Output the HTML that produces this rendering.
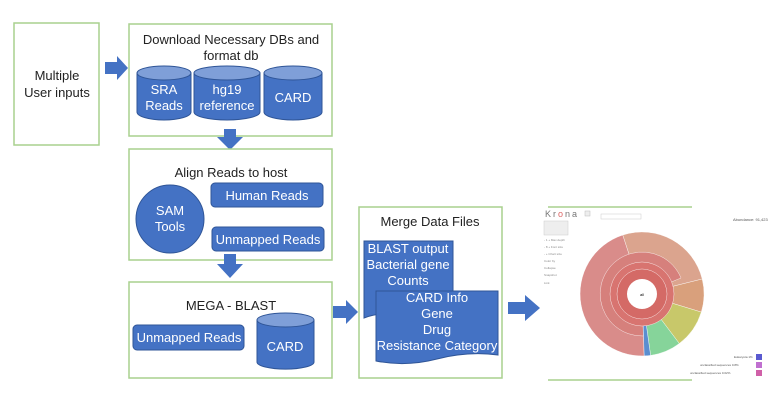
<!DOCTYPE html>
<html><head><meta charset="utf-8"><style>
html,body{margin:0;padding:0;background:#fff;}
svg{display:block;font-family:"Liberation Sans","DejaVu Sans",sans-serif;}
.box{fill:#fff;stroke:#a9d18e;stroke-width:1.5;}
.blue{fill:#4472c4;stroke:#2f5597;stroke-width:1;}
.top{fill:#7f9fd8;stroke:#2f5597;stroke-width:1;}
.wt{fill:#fff;font-size:13px;text-anchor:middle;}
.bt{fill:#222;font-size:13px;text-anchor:middle;}
</style></head><body>
<svg width="774" height="420" viewBox="0 0 774 420">
<rect class="box" x="14" y="23" width="85" height="122"/>
<text class="bt" x="57" y="80">Multiple</text>
<text class="bt" x="57" y="97">User inputs</text>
<polygon fill="#4472c4" points="105,62 117,62 117,56 128,68 117,80 117,74 105,74"/>
<rect class="box" x="129" y="24" width="203" height="112"/>
<text class="bt" x="231" y="44" font-size="12.5">Download Necessary DBs and</text>
<text class="bt" x="231" y="60" font-size="12.5">format db</text>
<g>
<path class="blue" d="M137,73 v39 a27,8 0 0 0 54,0 v-39"/>
<ellipse class="top" cx="164" cy="73" rx="27" ry="7"/>
<text class="wt" x="164" y="94">SRA</text><text class="wt" x="164" y="110">Reads</text>
<path class="blue" d="M194,73 v39 a33,8 0 0 0 66,0 v-39"/>
<ellipse class="top" cx="227" cy="73" rx="33" ry="7"/>
<text class="wt" x="227" y="94">hg19</text><text class="wt" x="227" y="110">reference</text>
<path class="blue" d="M264,73 v39 a29,8 0 0 0 58,0 v-39"/>
<ellipse class="top" cx="293" cy="73" rx="29" ry="7"/>
<text class="wt" x="293" y="102">CARD</text>
</g>
<polygon fill="#4472c4" points="224,129 236,129 236,137 243,137 230,150 217,137 224,137"/>
<rect class="box" x="129" y="149" width="203" height="111"/>
<text class="bt" x="231" y="177">Align Reads to host</text>
<circle class="blue" cx="170" cy="219" r="34"/>
<text class="wt" x="170" y="215">SAM</text><text class="wt" x="170" y="231">Tools</text>
<rect class="blue" x="211" y="183" width="112" height="24" rx="4"/>
<text class="wt" x="267" y="200">Human Reads</text>
<rect class="blue" x="212" y="227" width="112" height="24" rx="4"/>
<text class="wt" x="268" y="244">Unmapped Reads</text>
<polygon fill="#4472c4" points="224,254 236,254 236,264 243,264 230,278 217,264 224,264"/>
<rect class="box" x="129" y="282" width="203" height="96"/>
<text class="bt" x="231" y="310">MEGA - BLAST</text>
<rect class="blue" x="133" y="325" width="111" height="25" rx="4"/>
<text class="wt" x="189" y="342">Unmapped Reads</text>
<path class="blue" d="M257,320 v42 a28,7 0 0 0 57,0 v-42"/>
<ellipse class="top" cx="285.5" cy="320" rx="28.5" ry="7"/>
<text class="wt" x="285" y="351">CARD</text>
<polygon fill="#4472c4" points="333,306 346,306 346,300 358,312 346,324 346,318 333,318"/>
<rect class="box" x="359" y="207" width="143" height="171"/>
<text class="bt" x="430" y="226">Merge Data Files</text>
<path class="blue" d="M364,241 h89 v75 h-53 q-18,-5 -36,2 z"/>
<text class="wt" x="408" y="253">BLAST output</text>
<text class="wt" x="408" y="269">Bacterial gene</text>
<text class="wt" x="408" y="285">Counts</text>
<path class="blue" d="M376,291 h122 v64 q-30,-4 -61,4 q-31,8 -61,2 z"/>
<text class="wt" x="437" y="302">CARD Info</text>
<text class="wt" x="437" y="318">Gene</text>
<text class="wt" x="437" y="334">Drug</text>
<text class="wt" x="437" y="350">Resistance Category</text>
<polygon fill="#4472c4" points="508,302 525,302 525,295 540,308 525,321 525,314 508,314"/>
<line x1="548" y1="207" x2="692" y2="207" stroke="#a9d18e" stroke-width="1.5"/>
<line x1="548" y1="380" x2="692" y2="380" stroke="#a9d18e" stroke-width="1.5"/>
<text x="545" y="217" font-size="9" fill="#777" letter-spacing="2">Kr<tspan fill="#d66">o</tspan>na</text>
<rect x="585" y="211" width="5" height="5" fill="#eee" stroke="#bbb" stroke-width="0.5"/>
<rect x="601" y="214" width="40" height="5" fill="#fff" stroke="#ccc" stroke-width="0.5"/>
<rect x="544" y="221" width="24" height="14" fill="#eee" stroke="#ccc" stroke-width="0.5"/>
<g fill="#888" font-size="3">
<text x="544" y="241">- 1 + Max depth</text>
<text x="544" y="248">- 8 + Font size</text>
<text x="544" y="255">- + Chart size</text>
<text x="544" y="262">Color by</text>
<text x="544" y="269">Collapse</text>
<text x="544" y="276">Snapshot</text>
<text x="544" y="284">Link</text>
</g>
<text x="733" y="221" font-size="4" fill="#555">Abundance: 91,423</text>
<g stroke="#fff" stroke-width="0.4">
<path fill="#d98c8a" d="M642,294 L644.2,355.9 A62,62 0 0 1 622.8,235 Z"/>
<path fill="#dba48e" d="M642,294 L622.8,235 A62,62 0 0 1 702.2,279 Z"/>
<path fill="#d9a07c" d="M642,294 L702.2,279 A62,62 0 0 1 701.3,312.1 Z"/>
<path fill="#c8c86a" d="M642,294 L701.3,312.1 A62,62 0 0 1 679.3,343.5 Z"/>
<path fill="#86d49a" d="M642,294 L679.3,343.5 A62,62 0 0 1 650.6,355.4 Z"/>
<path fill="#5a8ed0" d="M642,294 L650.6,355.4 A62,62 0 0 1 644.2,355.9 Z"/>
<path fill="#d6807c" d="M642,294 L643.4,336 A42,42 0 1 1 681,278 Z"/>
<circle cx="642" cy="294" r="32" fill="#d87470"/>
<circle cx="642" cy="294" r="25" fill="#d46a66"/>
</g>
<circle cx="642" cy="294" r="15" fill="#fff"/>
<text x="642" y="296" font-size="4" text-anchor="middle">all</text>
<rect x="756" y="354" width="6" height="6" fill="#5a5ad0"/>
<rect x="756" y="362" width="6" height="6" fill="#c070d0"/>
<rect x="756" y="370" width="6" height="6" fill="#d060a8"/>
<g fill="#555" font-size="3"><text x="734" y="358">Eukaryota 1%</text><text x="700" y="366">unclassified sequences 0.8%</text><text x="690" y="374">unclassified sequences 0.02%</text></g>
</svg>
</body></html>
